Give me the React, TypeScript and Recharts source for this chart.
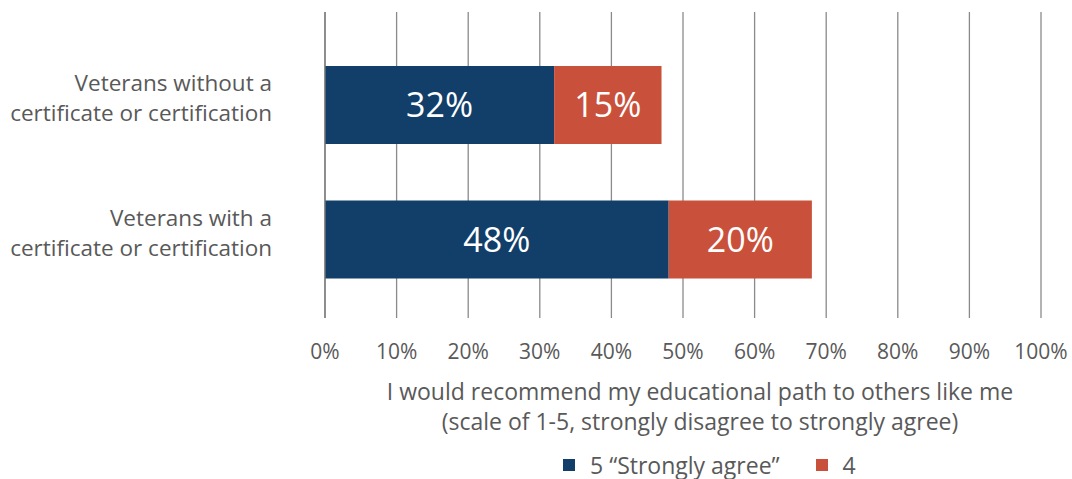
import React from "react";
import { BarChart, Bar, XAxis, YAxis, CartesianGrid, Legend, LabelList, Label } from "recharts";

const categories = ["Veterans without a\ncertificate or certification", "Veterans with a\ncertificate or certification"];
const strongly = [32, 48];
const agree = [15, 20];
const xTicks = [0, 10, 20, 30, 40, 50, 60, 70, 80, 90, 100];
const axisTitle = ["I would recommend my educational path to others like me", "(scale of 1-5, strongly disagree to strongly agree)"];
const seriesNames = ["5 \u201cStrongly agree\u201d", "4"];

const data = categories.map((c, i) => ({ name: c, s5: strongly[i], s4: agree[i] }));

const FONT = "'Open Sans', Lato, sans-serif";
const NAVY = "#113F69";
const RED = "#C9513B";
const GRAY = "#595959";

const YTick = (props: any) => {
  const { x, y, payload } = props;
  const lines = String(payload.value).split("\n");
  return (
    <text x={x - 45} y={y - 6} textAnchor="end" fill={GRAY} fontSize={22.5} fontFamily={FONT}>
      {lines.map((l, i) => (
        <tspan key={i} x={x - 45} dy={i === 0 ? -8 : 30}>{l}</tspan>
      ))}
    </text>
  );
};

const XTitle = (props: any) => {
  const { viewBox } = props;
  const cx = viewBox.x + viewBox.width / 2 + 17;
  return (
    <text x={cx} y={viewBox.y} textAnchor="middle" fill={GRAY} fontSize={23} fontFamily={FONT}>
      <tspan x={cx} dy={82}>{axisTitle[0]}</tspan>
      <tspan x={cx} dy={30}>{axisTitle[1]}</tspan>
    </text>
  );
};

const LegendContent = () => (
  <div style={{ display: "flex", alignItems: "center", fontFamily: FONT, fontSize: 23, color: GRAY, marginLeft: 563, lineHeight: "26px" }}>
    {[NAVY, RED].map((c, i) => (
      <div key={i} style={{ display: "flex", alignItems: "center", marginRight: i === 0 ? 36 : 0 }}>
        <div style={{ width: 12, height: 12, background: c, marginRight: 15 }} />
        <span>{seriesNames[i]}</span>
      </div>
    ))}
  </div>
);

export default function App() {
  return (
    <div style={{ position: "absolute", left: 0, top: 0, width: 1072, height: 479, background: "#fff" }}>
      <BarChart
        width={1072}
        height={479}
        data={data}
        layout="vertical"
        margin={{ top: 12, right: 31, bottom: 0, left: 0 }}
        barCategoryGap={0}
      >
        <CartesianGrid horizontal={false} vertical={true} stroke="#8a8a8a" strokeWidth={1.3} />
        <XAxis
          type="number"
          domain={[0, 100]}
          ticks={xTicks}
          tickFormatter={(v: number) => `${v}%`}
          axisLine={false}
          tickLine={false}
          height={135}
          tick={{ fill: GRAY, fontSize: 21, fontFamily: FONT, dy: 18 }}
          interval={0}
        >
          <Label content={<XTitle />} />
        </XAxis>
        <YAxis
          type="category"
          dataKey="name"
          width={325}
          axisLine={{ stroke: "#7a7a7a", strokeWidth: 1.3 }}
          tickLine={false}
          tick={<YTick />}
          padding={{ top: 26, bottom: 11 }}
        />
        <Legend
          content={<LegendContent />}
          wrapperStyle={{ position: "absolute", top: 452, left: 0, width: 1072, height: 26 }}
        />
        <Bar dataKey="s5" stackId="a" fill={NAVY} barSize={78} isAnimationActive={false} name={seriesNames[0]}>
          <LabelList dataKey="s5" position="center" fill="#fff" fontSize={34} fontFamily={FONT} formatter={(v: any) => `${v}%`} />
        </Bar>
        <Bar dataKey="s4" stackId="a" fill={RED} barSize={78} isAnimationActive={false} name={seriesNames[1]}>
          <LabelList dataKey="s4" position="center" fill="#fff" fontSize={34} fontFamily={FONT} formatter={(v: any) => `${v}%`} />
        </Bar>
      </BarChart>
    </div>
  );
}
